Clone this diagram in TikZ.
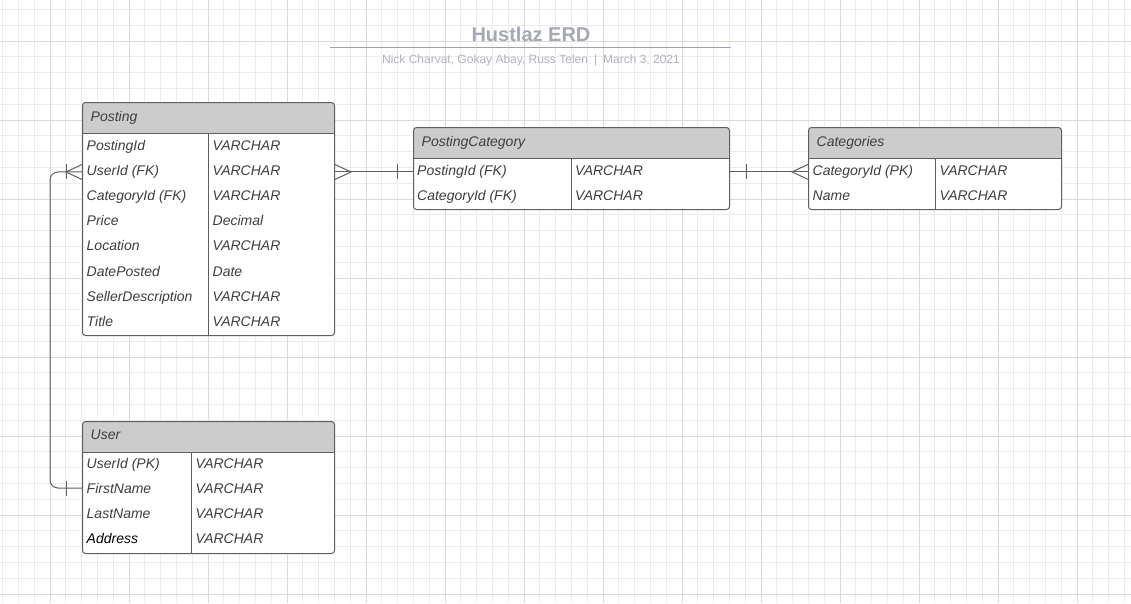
\documentclass[tikz,border=0pt]{standalone}
\usepackage{fontspec}
\setmainfont{Liberation Sans}
\usetikzlibrary{calc}

\definecolor{gridminor}{RGB}{236,236,236}
\definecolor{gridmajor}{RGB}{218,218,218}
\definecolor{edgegray}{RGB}{95,95,95}
\definecolor{headgray}{RGB}{204,204,204}
\definecolor{textgray}{RGB}{62,62,62}
\definecolor{titlegray}{RGB}{166,169,178}
\definecolor{rulegray}{RGB}{158,161,178}
\definecolor{subgray}{RGB}{178,180,188}

\tikzset{
  minorline/.style={draw=gridminor, line width=0.9pt},
  majorline/.style={draw=gridmajor, line width=0.9pt},
  entity/.style={draw=edgegray, line width=1pt, fill=white, rounded corners=3pt,
    anchor=north west, inner sep=0pt,
    path picture={\fill[headgray] (path picture bounding box.north west)
      rectangle ([yshift=-31pt]path picture bounding box.north east);}},
  edgeline/.style={draw=edgegray, line width=1pt},
  relation/.style={draw=edgegray, line width=1pt},
  headtext/.style={anchor=base west, inner sep=0pt, text=textgray,
    font=\fontsize{14}{16}\selectfont\itshape},
  fieldtext/.style={anchor=base west, inner sep=0pt, text=textgray,
    font=\fontsize{14}{16}\selectfont\itshape}
}

\begin{document}
\begin{tikzpicture}[x=1pt,y=-1pt]
  \useasboundingbox (0,0) rectangle (1131,603);
  \fill[white] (0,0) rectangle (1131,603);
  % grid
  \foreach \i in {0,...,71} \draw[minorline] ({2.6+15.8*\i},0) -- ++(0,603);
  \foreach \j in {0,...,37} \draw[minorline] (0,{9.4+15.8*\j}) -- ++(1131,0);
  \foreach \i in {0,...,13} \draw[majorline] ({50+79*\i},0) -- ++(0,603);
  \foreach \j in {0,...,7} \draw[majorline] (0,{41+79*\j}) -- ++(1131,0);

  % title
  \node[anchor=base, inner sep=0pt, text=titlegray, font=\fontsize{20}{24}\selectfont\bfseries] (title) at (531,41) {Hustlaz ERD};
  \coordinate (ruleL) at (330,47.5);
  \coordinate (ruleR) at (731,47.5);
  \draw[draw=rulegray, line width=1.1pt] (ruleL) -- (ruleR);
  \node[anchor=base, inner sep=0pt, text=subgray, font=\fontsize{12}{14}\selectfont] (authors) at (531,63.5)
    {Nick Charvat, Gokay Abay, Russ Telen\hspace{6pt}|\hspace{6pt}March 3, 2021};

  % Posting
  \node[entity, minimum width=252pt, minimum height=233pt] (posting) at (82,102) {};
  \draw[edgeline] ($(posting.north west)+(0,31)$) -- ($(posting.north east)+(0,31)$);
  \draw[edgeline] ($(posting.north west)+(126,31)$) -- ($(posting.south west)+(126,0)$);
  \node[headtext] (posting-h) at ($(posting.north west)+(8.5,19)$) {Posting};
  \foreach \fname/\ftype [count=\k from 0] in {PostingId/VARCHAR, UserId (FK)/VARCHAR,
      CategoryId (FK)/VARCHAR, Price/Decimal, Location/VARCHAR, DatePosted/Date,
      SellerDescription/VARCHAR, Title/VARCHAR}{
    \node[fieldtext] (p-\k) at ($(posting.north west)+(4.5,{48.5+25.1*\k})$) {\fname};
    \node[fieldtext] (pt-\k) at ($(posting.north west)+(130.5,{48.5+25.1*\k})$) {\ftype};
  }

  % PostingCategory
  \node[entity, minimum width=316pt, minimum height=82pt] (pc) at (413,127) {};
  \draw[edgeline] ($(pc.north west)+(0,31)$) -- ($(pc.north east)+(0,31)$);
  \draw[edgeline] ($(pc.north west)+(158,31)$) -- ($(pc.south west)+(158,0)$);
  \node[headtext] (pc-h) at ($(pc.north west)+(8.5,19)$) {PostingCategory};
  \foreach \fname/\ftype [count=\k from 0] in {PostingId (FK)/VARCHAR, CategoryId (FK)/VARCHAR}{
    \node[fieldtext] (pc-\k) at ($(pc.north west)+(4,{48.5+25*\k})$) {\fname};
    \node[fieldtext] (pct-\k) at ($(pc.north west)+(162,{48.5+25*\k})$) {\ftype};
  }

  % Categories
  \node[entity, minimum width=253pt, minimum height=82pt] (cat) at (808,127) {};
  \draw[edgeline] ($(cat.north west)+(0,31)$) -- ($(cat.north east)+(0,31)$);
  \draw[edgeline] ($(cat.north west)+(127,31)$) -- ($(cat.south west)+(127,0)$);
  \node[headtext] (cat-h) at ($(cat.north west)+(8.5,19)$) {Categories};
  \foreach \fname/\ftype [count=\k from 0] in {CategoryId (PK)/VARCHAR, Name/VARCHAR}{
    \node[fieldtext] (c-\k) at ($(cat.north west)+(4.5,{48.5+25*\k})$) {\fname};
    \node[fieldtext] (ct-\k) at ($(cat.north west)+(131.5,{48.5+25*\k})$) {\ftype};
  }

  % User
  \node[entity, minimum width=252pt, minimum height=132pt] (user) at (82,421) {};
  \draw[edgeline] ($(user.north west)+(0,31)$) -- ($(user.north east)+(0,31)$);
  \draw[edgeline] ($(user.north west)+(109,31)$) -- ($(user.south west)+(109,0)$);
  \node[headtext] (user-h) at ($(user.north west)+(8.5,18)$) {User};
  \foreach \fname/\ftype [count=\k from 0] in {UserId (PK)/VARCHAR, FirstName/VARCHAR,
      LastName/VARCHAR, \textcolor{black}{Address}/VARCHAR}{
    \node[fieldtext] (u-\k) at ($(user.north west)+(4.5,{47+25*\k})$) {\fname};
    \node[fieldtext] (ut-\k) at ($(user.north west)+(113.5,{47+25*\k})$) {\ftype};
  }

  % Posting >--| PostingCategory
  \coordinate (p-out) at (posting.east |- p-1.west);
  \coordinate (pc-in) at (pc.west |- p-1.west);
  \draw[relation] (p-out) -- (pc-in);
  \draw[relation] (p-out) ++(0,-7.5) -- ++(16,7.5) -- ++(-16,7.5);
  \draw[relation] (pc-in) ++(-16,-7.5) -- ++(0,15);

  % PostingCategory |--< Categories
  \coordinate (pc-out) at (pc.east |- c-0.west);
  \coordinate (cat-in) at (cat.west |- c-0.west);
  \draw[relation] (pc-out) -- (cat-in);
  \draw[relation] (pc-out) ++(16,-7.5) -- ++(0,15);
  \draw[relation] (cat-in) ++(0,-7.5) -- ++(-16,7.5) -- ++(16,7.5);

  % User |--|< Posting
  \coordinate (u-out) at (user.west |- u-1.west);
  \coordinate (p-in) at (posting.west |- p-1.west);
  \draw[relation, rounded corners=8pt] (u-out) -| ($(p-in)+(-32,0)$) -- (p-in);
  \draw[relation] (u-out) ++(-16,-7.5) -- ++(0,15);
  \draw[relation] (p-in) ++(-16,-7.5) -- ++(0,15);
  \draw[relation] (p-in) ++(0,-7.5) -- ++(-16,7.5) -- ++(16,7.5);
\end{tikzpicture}
\end{document}
